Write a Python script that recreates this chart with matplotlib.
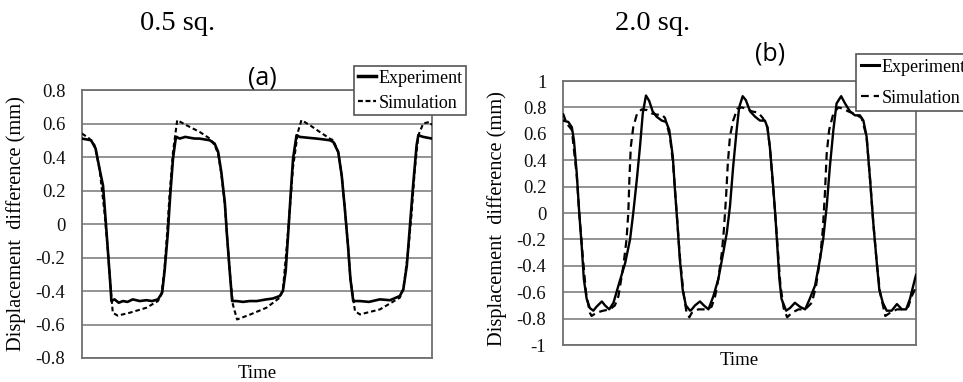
import matplotlib
matplotlib.use("Agg")
import matplotlib.pyplot as plt
from matplotlib.lines import Line2D

# ---- panel (a): 0.5 sq. ----
t_exp_a = [0, 2.6, 3.9, 5.0, 6.0, 6.7, 7.4, 8.1, 8.4, 9.3, 10.5, 11.7, 13.0, 14.5, 16.5,
           18.4, 20.0, 21.7, 22.9, 23.6, 24.5, 25.2, 26.0, 26.7, 27.0, 27.9, 29.5, 30.8,
           32.2, 33.6, 35.0, 36.5, 37.9, 38.9, 39.8, 40.8, 41.4, 42.2, 42.9, 44.1, 46.0,
           47.9, 50.0, 52.7, 54.5, 56.5, 57.4, 58.2, 58.9, 59.6, 60.3, 61.3, 62.2, 64.5,
           67.0, 69.0, 70.8, 71.8, 73.2, 74.2, 75.1, 76.0, 76.7, 77.5, 79.4, 82.0, 85.1,
           88.0, 90.8, 91.8, 92.8, 93.7, 94.6, 95.6, 96.1, 97.5, 100]
v_exp_a = [0.51, 0.50, 0.45, 0.33, 0.23, 0.04, -0.16, -0.36, -0.46, -0.45, -0.47, -0.46,
           -0.465, -0.45, -0.46, -0.455, -0.46, -0.45, -0.41, -0.28, -0.06, 0.17, 0.39,
           0.50, 0.52, 0.51, 0.52, 0.515, 0.51, 0.51, 0.505, 0.50, 0.48, 0.43, 0.31, 0.13,
           -0.06, -0.28, -0.46, -0.46, -0.465, -0.46, -0.46, -0.45, -0.445, -0.43, -0.40,
           -0.28, -0.06, 0.17, 0.39, 0.53, 0.52, 0.515, 0.51, 0.505, 0.50, 0.49, 0.43,
           0.29, 0.09, -0.13, -0.33, -0.46, -0.46, -0.465, -0.45, -0.455, -0.43, -0.39,
           -0.25, -0.01, 0.23, 0.47, 0.53, 0.52, 0.51]

t_sim_a = [0, 2.1, 3.6, 5.0, 6.4, 7.4, 8.1, 8.8, 10.2, 13.6, 18.4, 21.7, 22.7, 23.6, 24.3,
           25.0, 26.0, 27.2, 29.8, 33.6, 36.5, 37.9, 38.9, 39.8, 40.8, 41.4, 42.2, 43.1,
           44.3, 48.1, 52.7, 56.5, 57.4, 58.4, 59.2, 60.3, 61.7, 62.7, 65.1, 67.9, 70.8,
           71.8, 73.2, 74.2, 75.1, 76.0, 76.7, 78.0, 79.4, 85.1, 90.8, 91.8, 93.2, 94.2,
           95.1, 96.1, 97.5, 99.4, 100]
v_sim_a = [0.54, 0.51, 0.47, 0.33, 0.075, -0.16, -0.36, -0.53, -0.547, -0.53, -0.50,
           -0.46, -0.42, -0.26, -0.06, 0.17, 0.43, 0.62, 0.59, 0.55, 0.51, 0.47, 0.42,
           0.30, 0.12, -0.06, -0.28, -0.48, -0.57, -0.54, -0.50, -0.44, -0.39, -0.16,
           0.04, 0.34, 0.55, 0.62, 0.59, 0.55, 0.51, 0.50, 0.43, 0.29, 0.09, -0.13, -0.33,
           -0.52, -0.54, -0.51, -0.44, -0.39, -0.16, 0.07, 0.33, 0.53, 0.60, 0.61, 0.59]

yticks_a = [-0.8, -0.6, -0.4, -0.2, 0, 0.2, 0.4, 0.6, 0.8]
ylabels_a = ["-0.8", "-0.6", "-0.4", "-0.2", "0", "0.2", "0.4", "0.6", "0.8"]

# ---- panel (b): 2.0 sq. ----
t_exp_b = [0, 1.5, 2.5, 3.1, 3.9, 4.6, 5.3, 5.9, 6.7, 7.6, 8.6, 9.5, 11.0, 11.9, 13.1,
           14.3, 15.7, 17.6, 19.0, 19.9, 20.9, 21.8, 22.6, 23.5, 24.4, 25.4, 26.5, 28.0,
           29.2, 30.1, 31.1, 31.7, 32.4, 33.1, 33.9, 34.8, 36.0, 36.5, 37.4, 38.8, 39.9,
           41.2, 42.6, 44.0, 45.4, 46.4, 47.3, 48.2, 49.2, 49.9, 50.9, 51.8, 53.0, 54.4,
           55.8, 57.2, 57.9, 58.6, 59.4, 60.1, 60.7, 61.3, 61.9, 63.2, 64.3, 65.7, 67.1,
           68.6, 69.9, 71.4, 72.8, 73.7, 74.7, 75.6, 76.6, 77.5, 78.8, 79.9, 81.3, 82.7,
           84.1, 85.1, 86.0, 87.0, 87.9, 88.9, 89.6, 90.6, 91.7, 93.1, 94.6, 96.0, 97.2,
           98.3, 99.7, 100]
v_exp_b = [0.70, 0.69, 0.65, 0.55, 0.30, 0.0, -0.25, -0.50, -0.65, -0.72, -0.74, -0.71,
           -0.67, -0.70, -0.73, -0.68, -0.55, -0.38, -0.20, 0.0, 0.25, 0.50, 0.755, 0.89,
           0.85, 0.77, 0.73, 0.70, 0.69, 0.63, 0.43, 0.18, -0.075, -0.35, -0.58, -0.70,
           -0.74, -0.73, -0.70, -0.67, -0.70, -0.73, -0.63, -0.50, -0.30, -0.15, 0.05,
           0.35, 0.63, 0.80, 0.885, 0.855, 0.77, 0.73, 0.70, 0.70, 0.65, 0.50, 0.25, 0.0,
           -0.25, -0.50, -0.65, -0.74, -0.72, -0.68, -0.71, -0.73, -0.65, -0.55, -0.35,
           -0.20, 0.05, 0.35, 0.63, 0.83, 0.885, 0.83, 0.77, 0.74, 0.74, 0.70, 0.58, 0.25,
           -0.075, -0.38, -0.58, -0.68, -0.74, -0.74, -0.69, -0.73, -0.73, -0.65, -0.50,
           -0.47]

t_sim_b = [0, 1.0, 2.5, 3.9, 4.6, 5.6, 6.5, 7.6, 8.1, 9.5, 11.4, 13.3, 14.7, 15.7, 17.1,
           18.0, 18.5, 18.8, 19.2, 19.9, 21.0, 22.3, 23.7, 25.1, 26.5, 28.0, 28.9, 30.3,
           31.2, 32.2, 33.1, 34.1, 35.0, 35.8, 36.5, 38.3, 40.7, 42.1, 43.1, 44.0, 45.0,
           45.6, 46.2, 46.7, 47.3, 48.2, 49.4, 50.6, 52.0, 53.5, 55.3, 56.6, 57.9, 58.6,
           60.1, 61.6, 62.5, 63.5, 64.9, 66.7, 68.6, 70.5, 71.7, 72.8, 73.6, 74.2, 74.7,
           75.4, 76.6, 78.0, 79.4, 80.8, 82.7, 84.6, 86.0, 87.0, 87.9, 88.9, 89.8, 91.3,
           92.7, 94.6, 96.4, 97.8, 98.8, 100]
v_sim_b = [0.755, 0.68, 0.63, 0.28, 0.0, -0.33, -0.60, -0.755, -0.78, -0.755, -0.74,
           -0.73, -0.70, -0.63, -0.40, -0.20, 0.0, 0.25, 0.50, 0.65, 0.755, 0.785, 0.78,
           0.755, 0.745, 0.745, 0.72, 0.58, 0.37, 0.0, -0.33, -0.60, -0.755, -0.79,
           -0.755, -0.73, -0.73, -0.71, -0.63, -0.50, -0.30, -0.12, 0.125, 0.38, 0.58,
           0.70, 0.79, 0.80, 0.79, 0.77, 0.76, 0.72, 0.65, 0.50, 0.0, -0.55, -0.72, -0.79,
           -0.755, -0.73, -0.73, -0.68, -0.55, -0.35, -0.125, 0.15, 0.45, 0.63, 0.755,
           0.80, 0.79, 0.77, 0.75, 0.72, 0.58, 0.25, -0.075, -0.38, -0.60, -0.78, -0.755,
           -0.73, -0.73, -0.71, -0.63, -0.56]

yticks_b = [-1, -0.8, -0.6, -0.4, -0.2, 0, 0.2, 0.4, 0.6, 0.8, 1]
ylabels_b = ["-1", "-0.8", "-0.6", "-0.4", "-0.2", "0", "0.2", "0.4", "0.6", "0.8", "1"]

series_names = ["Experiment", "Simulation"]
titles = ["0.5 sq.", "2.0 sq."]
panel_tags = ["(a)", "(b)"]

plt.rcParams["font.family"] = ["Liberation Serif", "DejaVu Serif"]
plt.rcParams["axes.unicode_minus"] = False

W, H = 963, 382
fig = plt.figure(figsize=(W / 100, H / 100), dpi=100)


def style_axes(ax, yticks, ylabels, ylim):
    ax.set_xlim(0, 100)
    ax.set_ylim(*ylim)
    ax.set_xticks([])
    ax.set_yticks(yticks)
    ax.set_yticklabels(ylabels, fontsize=13.5, color="#111111")
    ax.tick_params(axis="y", length=0, pad=12)
    for y in yticks:
        ax.axhline(y, color="#8a8a8a", lw=1.3, zorder=1)
    for s in ax.spines.values():
        s.set_color("#6f6f6f")
        s.set_linewidth(1.3)
    ax.set_xlabel("Time", fontsize=13.5, labelpad=5)
    ax.set_ylabel("Displacement  difference (mm)", fontsize=14.7)


# panel (a)
ax1 = fig.add_axes([82 / W, 1 - 358 / H, 350 / W, 268 / H])
style_axes(ax1, yticks_a, ylabels_a, (-0.8, 0.8))
ax1.plot(t_exp_a, v_exp_a, color="black", lw=1.9, zorder=3)
ax1.plot(t_sim_a, v_sim_a, color="black", lw=1.5, ls=(0, (2.2, 1.4)), zorder=3)
ax1.yaxis.set_label_coords(-0.16, 0.5)

# panel (b)
ax2 = fig.add_axes([563 / W, 1 - 345 / H, 353 / W, 264 / H])
style_axes(ax2, yticks_b, ylabels_b, (-1, 1))
ax2.plot(t_exp_b, v_exp_b, color="black", lw=1.7, zorder=3)
ax2.plot(t_sim_b, v_sim_b, color="black", lw=1.6, ls=(0, (3.5, 2.2)), zorder=3)
ax2.yaxis.set_label_coords(-0.159, 0.48)

# titles and panel tags
fig.text(178 / W, 1 - 24 / H, titles[0], fontsize=20.5, ha="center", va="center")
fig.text(653 / W, 1 - 24 / H, titles[1], fontsize=20.5, ha="center", va="center")
fig.text(262 / W, 1 - 78 / H, panel_tags[0], fontsize=18, ha="center", va="center",
         family="Open Sans")
fig.text(770 / W, 1 - 54 / H, panel_tags[1], fontsize=18, ha="center", va="center",
         family="Open Sans")

# legends
h_a = [Line2D([], [], color="black", lw=2.5),
       Line2D([], [], color="black", lw=1.6, ls=(0, (2.2, 1.2)))]
h_b = [Line2D([], [], color="black", lw=2.2),
       Line2D([], [], color="black", lw=1.6, ls=(0, (3.5, 2.2)))]
for handles, (lx, ly), ls, bp in [(h_a, (354, 66), 0.45, 0.2), (h_b, (856, 54), 0.78, 0.25)]:
    leg = fig.legend(handles, series_names, loc="upper left",
                     bbox_to_anchor=(lx / W, 1 - ly / H), borderaxespad=0,
                     fontsize=13, fancybox=False, framealpha=1, edgecolor="#555555",
                     handlelength=1.0, handletextpad=0.15, borderpad=bp,
                     labelspacing=ls)
    leg.get_frame().set_linewidth(1.2)

fig.savefig("out.png", dpi=100)
